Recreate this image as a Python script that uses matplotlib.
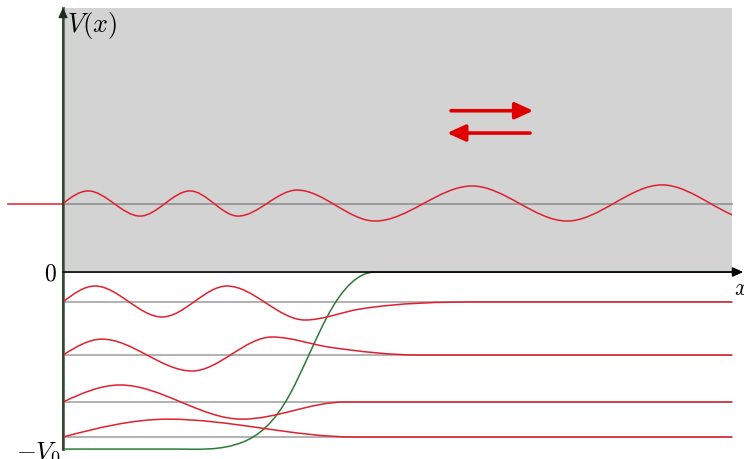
import matplotlib
matplotlib.use("Agg")
import matplotlib.pyplot as plt
from matplotlib.path import Path
from matplotlib.patches import PathPatch, Rectangle

plt.rcParams["mathtext.fontset"] = "cm"

# energy levels (units of V0) and wavefunction nodes:
# each node is (x, y, slope); extrema have slope 0
scatter_level = 0.387
scatter_nodes = [(0.0, 0.387, 0.298), (0.374, 0.458, 0), (1.151, 0.316, 0),
                 (1.898, 0.458, 0), (2.616, 0.316, 0), (3.498, 0.463, 0),
                 (4.664, 0.288, 0), (6.114, 0.486, 0), (7.534, 0.288, 0),
                 (8.954, 0.492, 0), (10.374, 0.288, 0)]

bound_levels = [-0.169, -0.469, -0.734, -0.932]
bound_nodes = [
    [(0.0, -0.169, 0.296), (0.478, -0.079, 0), (1.480, -0.254, 0), (2.451, -0.079, 0),
     (3.617, -0.271, 0), (4.439, -0.209, 0.06), (6.233, -0.169, 0), (10.0, -0.169, 0)],
    [(0.0, -0.469, 0.242), (0.583, -0.379, 0), (1.928, -0.559, 0), (3.124, -0.367, 0),
     (3.991, -0.425, -0.054), (5.34, -0.469, 0), (10.0, -0.469, 0)],
    [(0.0, -0.734, 0.177), (0.852, -0.638, 0), (2.676, -0.831, 0), (4.215, -0.734, 0),
     (10.0, -0.734, 0)],
    [(0.0, -0.932, 0.101), (1.570, -0.831, 0), (4.365, -0.932, 0), (10.0, -0.932, 0)],
]

potential_nodes = [(0.0, -1.0, 0), (1.674, -1.0, 0), (2.691, -0.960, 0.151),
                   (3.393, -0.689, 0.699), (3.946, -0.254, 0.718), (4.664, 0.0, 0),
                   (10.0, 0.0, 0)]

x_end = 10.0
y_top = 1.49

RED = "#e0202e"
GREEN = "#2d7a38"


def hermite_path(nodes):
    verts = [nodes[0][:2]]
    codes = [Path.MOVETO]
    for (x0, y0, m0), (x1, y1, m1) in zip(nodes[:-1], nodes[1:]):
        h = (x1 - x0) / 3
        verts += [(x0 + h, y0 + m0 * h), (x1 - h, y1 - m1 * h), (x1, y1)]
        codes += [Path.CURVE4] * 3
    return Path(verts, codes)


fig = plt.figure(figsize=(7.44, 4.60), dpi=100)
ax = fig.add_axes([0, 0, 1, 1])
ax.set_xlim(-0.942, 10.179)
ax.set_ylim(-1.056, 1.542)
ax.axis("off")

# shaded region above V=0
ax.add_patch(Rectangle((0, 0), x_end, y_top, facecolor="#d3d3d3", edgecolor="none", zorder=0))

# energy levels
ax.plot([0, x_end], [scatter_level, scatter_level], color="#8a8a8a", lw=1.1, zorder=1)
for lev in bound_levels:
    ax.plot([0, x_end], [lev, lev], color="#9c9c9c", lw=1.1, zorder=1)

# potential well (with wall at x=0)
ax.plot([0, 0], [-1.0, y_top], color="#5f7a60", lw=2.2, zorder=2)
ax.add_patch(PathPatch(hermite_path(potential_nodes), fill=False, edgecolor=GREEN, lw=1.1, zorder=2))

# wavefunctions
ax.plot([-0.822, 0], [scatter_level, scatter_level], color=RED, lw=1.1, zorder=3)
sp = PathPatch(hermite_path(scatter_nodes), fill=False, edgecolor=RED, lw=1.1, zorder=3)
ax.add_patch(sp)
sp.set_clip_path(Rectangle((0, -2), x_end, 4, transform=ax.transData))
for nodes in bound_nodes:
    ax.add_patch(PathPatch(hermite_path(nodes), fill=False, edgecolor=RED, lw=1.1, zorder=3))

# axes with arrows
ax.annotate("", xy=(10.17, 0), xytext=(0, 0),
            arrowprops=dict(arrowstyle="-|>,head_length=0.45,head_width=0.2", color="k",
                            lw=1.2, mutation_scale=14, shrinkA=0, shrinkB=0), zorder=4)
ax.annotate("", xy=(0, 1.495), xytext=(0, -1.005),
            arrowprops=dict(arrowstyle="-|>,head_length=0.45,head_width=0.2", color="#1f2a1f",
                            lw=0.9, mutation_scale=14, shrinkA=0, shrinkB=0), zorder=4)

# red arrows (incoming / reflected)
arrow_kw = dict(arrowstyle="-|>,head_length=0.55,head_width=0.25", color="#e00000",
                lw=2.6, mutation_scale=20, shrinkA=0, shrinkB=0)
ax.annotate("", xy=(7.03, 0.911), xytext=(5.80, 0.911), arrowprops=arrow_kw, zorder=5)
ax.annotate("", xy=(5.74, 0.785), xytext=(6.98, 0.785), arrowprops=arrow_kw, zorder=5)

# labels
ax.text(0.06, 1.40, "$V(x)$", fontsize=19, ha="left", va="center")
ax.text(-0.09, 0.0, "$0$", fontsize=17, ha="right", va="center")
ax.text(-0.02, -1.01, "$-V_0$", fontsize=18.5, ha="right", va="center")
ax.text(10.03, -0.085, "$x$", fontsize=17, ha="left", va="center")

fig.savefig("out.png", dpi=100)
